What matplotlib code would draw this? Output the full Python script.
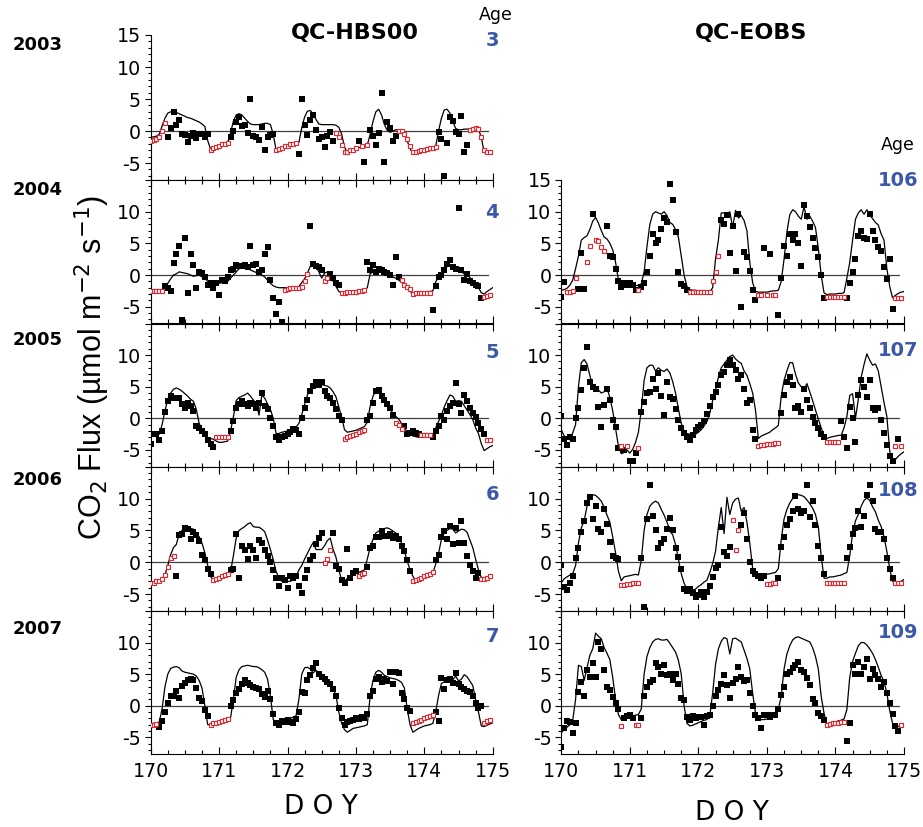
import numpy as np
import matplotlib.pyplot as plt
from matplotlib.ticker import MultipleLocator

plt.rcParams['font.family'] = 'DejaVu Sans'

# hourly values from DOY 170.0 ; line = model, obs = measured (gaps = gap-filled hours)
# ---------------- QC-HBS00 ----------------
line_hbs_2003 = [-1.0, -0.9, -0.8, -0.5, 0.8, 2.0, 2.8, 3.0, 3.0, 2.9, 2.7, 2.5,
                 2.3, 2.1, 2.0, 1.8, 1.6, 1.4, 1.1, 0.7, -1.5, -2.8, -2.6, -2.4,
                 -2.3, -2.1, -2.0, -1.8, -0.3, 1.5, 2.5, 2.7, 2.5, 2.0, 1.5, 1.1,
                 1.0, 1.0, 1.0, 1.1, 1.2, 1.2, 1.0, -0.5, -3.0, -2.8, -2.6, -2.5,
                 -2.3, -2.2, -2.0, -1.9, -1.8, 0.5, 2.2, 3.1, 3.2, 2.7, 1.8, 1.1,
                 1.0, 1.0, 1.0, 1.0, 1.0, 0.9, 0.6, -0.5, -2.5, -3.4, -3.2, -3.0,
                 -2.8, -2.6, -2.5, -2.4, -2.2, -0.5, 1.5, 3.0, 3.4, 2.5, 1.0, 0.1,
                 -0.2, 0.0, 0.2, 0.2, 0.0, -0.5, -1.5, -2.8, -3.4, -3.3, -3.1, -3.0,
                 -2.9, -2.8, -2.7, -2.6, -2.4, 0.0, 2.0, 3.3, 3.4, 2.8, 1.5, 0.4,
                 0.2, 0.2, 0.3, 0.3, 0.3, 0.4, 0.5, 0.3, -1.0, -3.3, -3.6, -3.4,
                 -3.2]
obs_hbs_2003 = [-1.6, -1.4, -1.2, -1.0, 0.0, 1.3, -0.9, 0.4, 3.0, 1.0, 1.8, -0.4,
                -0.6, -1.7, -0.8, -0.3, -1.1, -0.5, -0.5, -0.9, -0.4, -2.9, -2.7, -2.5,
                -2.3, -2.1, -2.0, -1.8, -0.9, 0.0, 1.4, 2.2, 0.8, 1.0, -0.3, 5.0,
                -0.7, -0.9, -1.4, 0.6, -3.0, -0.9, -0.6, -0.4, -3.0, -2.8, -2.6, -2.4,
                -2.3, -2.1, -2.0, -1.9, -3.6, 5.0, 0.9, -0.6, 1.7, 2.5, 0.2, -1.2,
                -1.0, -2.5, -0.8, -0.1, -1.5, -0.3, -0.9, -2.2, -3.3, -3.2, -3.0, -2.9,
                -2.7, -1.5, -2.4, -4.8, -2.2, 0.1, -0.8, -2.2, -0.3, 6.0, -4.9, 1.4,
                0.4, -1.5, -0.7, 0.0, 0.0, -0.5, -1.2, -2.4, -3.3, -3.3, -3.1, -3.0,
                -2.9, -2.8, -2.7, -2.6, -2.5, -0.2, -1.2, -7.0, -1.8, 2.2, 1.6, -0.2,
                -0.4, 2.3, -3.2, -2.2, 0.2, 0.3, 0.4, 0.3, -1.0, -3.0, -3.3, -3.2]
gap_hbs_2003 = [(0, 5), (21, 27), (44, 51), (65, 72), (74, 74), (76, 76), (87, 100), (112, 119)]

line_hbs_2004 = [-2.5, -2.5, -2.4, -2.4, -2.3, -1.7, -1.3, -0.6, 0.0, 0.2, 0.5, 0.4,
                 0.3, 0.2, 0.0, -0.2, -0.1, 0.0, -0.3, -0.5, -1.0, -1.2, -1.3, -1.3,
                 -1.3, -1.2, -1.1, -1.0, -0.5, 0.0, 0.5, 1.0, 1.1, 1.2, 1.1, 0.8,
                 0.6, 0.4, 0.2, 0.0, -0.3, -0.8, -1.3, -1.7, -1.9, -2.0, -2.0, -2.0,
                 -2.0, -1.9, -1.9, -1.9, -1.8, -1.2, -0.6, 0.3, 1.4, 1.5, 1.4, 0.5,
                 -0.5, 0.3, 0.5, 0.0, -1.0, -1.8, -2.6, -2.8, -2.8, -2.7, -2.7, -2.6,
                 -2.6, -2.5, -2.5, -2.4, -2.0, 0.2, 0.5, 0.8, 0.7, 0.5, 0.3, 0.2,
                 0.0, -0.3, -0.5, -0.8, -1.1, -1.4, -2.0, -2.6, -2.9, -2.8, -2.8, -2.7,
                 -2.7, -2.6, -2.6, -2.5, -1.1, -0.3, 0.0, 0.4, 1.4, 1.5, 1.3, 1.0,
                 0.7, 0.5, 0.2, 0.0, -0.4, -0.9, -1.4, -2.0, -2.8, -3.0, -2.6, -2.3,
                 -2.0]
obs_hbs_2004 = [-2.5, -2.5, -2.5, -2.5, -2.5, -1.8, -2.0, -2.5, 1.9, 3.3, 4.6, -7.1,
                5.9, -2.8, 3.3, 1.6, -2.1, 0.5, 0.3, -0.3, -1.5, -1.3, -2.1, -1.3,
                -3.2, -0.8, -1.0, -0.3, 0.8, 1.0, 1.6, 1.5, 1.5, 1.6, 1.3, 4.6,
                1.6, 1.8, 0.5, 0.8, 3.3, 4.5, -0.8, -3.7, -6.2, -4.2, -7.4, -2.3,
                -2.2, -2.1, -2.1, -2.0, -2.0, -1.9, -1.0, 0.2, 7.7, 1.7, 1.5, 1.3,
                0.8, -0.9, -0.5, 0.2, -0.5, -1.2, -1.6, -2.8, -2.8, -2.7, -2.7, -2.6,
                -2.6, -2.5, -2.5, -2.4, 2.1, 0.8, 1.6, 0.5, 1.0, 0.8, 0.5, 0.3,
                0.0, -1.6, 2.9, -0.3, -0.8, -1.5, -1.9, -2.2, -3.0, -2.9, -2.9, -2.9,
                -2.8, -2.8, -2.8, -5.5, -1.8, -0.3, 0.0, 0.8, 1.8, 2.4, 1.3, 1.0,
                10.6, 0.8, -0.8, 0.2, -1.0, -1.3, -1.6, -1.8, -3.7, -3.5, -3.3, -3.2]
gap_hbs_2004 = [(0, 4), (47, 55), (61, 62), (67, 75), (88, 98), (117, 119)]

line_hbs_2005 = [-2.5, -2.6, -2.7, -2.5, -1.0, 1.2, 3.0, 4.0, 4.6, 4.8, 4.6, 4.3,
                 3.9, 3.5, 3.0, 2.7, 1.4, -0.8, -1.8, -2.6, -3.0, -3.2, -3.3, -3.6,
                 -3.8, -3.8, -3.7, -3.6, -2.0, 0.2, 2.8, 3.3, 3.5, 3.7, 4.0, 3.5,
                 2.9, 2.4, 0.5, 3.7, 3.2, 2.3, 1.4, 0.0, -2.4, -2.4, -2.2, -2.1,
                 -2.0, -1.8, -1.7, -1.4, -0.8, 0.6, 2.2, 3.7, 4.6, 5.2, 5.6, 5.5,
                 5.3, 5.2, 5.1, 4.8, 4.2, 3.4, 1.8, 0.2, -1.8, -2.2, -2.1, -2.0,
                 -1.9, -1.7, -1.5, -1.3, -0.6, 1.9, 3.5, 4.3, 4.5, 3.8, 2.9, 2.2,
                 1.5, 0.7, 0.3, -0.1, -0.8, -1.5, -2.2, -2.5, -2.8, -2.9, -3.0, -3.0,
                 -2.9, -2.8, -2.7, -2.5, -1.5, -0.5, 0.5, 1.8, 2.8, 3.7, 3.5, 2.7,
                 2.8, 2.7, 2.0, 1.3, 0.6, -0.2, -1.5, -2.4, -4.0, -5.1, -4.8, -4.5,
                 -4.3]
obs_hbs_2005 = [-4.1, -2.5, -2.5, -3.5, -2.0, 1.0, 2.7, 3.5, 3.2, 3.2, 3.2, 2.2,
                1.7, 2.4, 1.9, 1.1, -1.2, -1.5, -2.0, -2.5, -3.5, -4.0, -4.6, -3.0,
                -3.0, -3.0, -3.0, -3.0, -2.0, -0.5, 1.7, 2.2, 2.7, 2.2, 2.0, 2.4,
                2.2, 1.7, 2.4, 4.0, 2.0, 1.5, 0.1, -1.2, -3.0, -3.5, -3.0, -2.8,
                -2.5, -2.2, -1.7, -1.8, -2.5, 0.0, 1.7, 2.9, 4.3, 5.1, 5.8, 5.3,
                5.8, 4.3, 3.5, 3.2, 2.4, 1.4, 0.4, -0.2, -3.2, -3.0, -2.8, -2.6,
                -2.4, -2.2, -2.0, -1.8, -0.2, 0.4, 2.4, 4.3, 4.5, 3.5, 2.9, 2.2,
                1.7, 0.6, -0.7, -1.0, -1.7, -1.2, -2.5, -2.3, -2.0, -2.3, -2.5, -2.6,
                -2.6, -2.6, -2.6, -3.0, -2.0, -1.2, 0.4, -0.2, 1.1, 1.9, 2.4, 5.6,
                2.2, 0.9, 3.7, 2.7, 1.7, 0.9, 0.2, -0.8, -1.7, -2.5, -3.4, -3.4]
gap_hbs_2005 = [(23, 27), (68, 75), (86, 88), (95, 98), (118, 119)]

line_hbs_2006 = [-3.3, -3.2, -3.1, -3.0, -2.6, -2.0, -0.5, 1.2, 2.3, 2.8, 4.5, 5.0,
                 5.3, 5.4, 5.3, 5.2, 4.6, 4.0, 3.0, 1.5, -0.5, -2.2, -2.8, -2.6,
                 -2.5, -2.3, -2.1, -1.9, -1.6, 1.0, 3.8, 5.0, 5.3, 5.6, 6.0, 6.2,
                 5.6, 5.5, 5.5, 5.2, 4.8, 3.5, 2.0, 0.4, -1.5, -2.4, -3.0, -3.0,
                 -3.0, -3.0, -2.7, -2.3, -1.2, -0.5, 0.5, 1.4, 2.3, 3.1, 2.0, 2.0,
                 2.0, 2.6, 3.4, 3.8, 2.0, 0.8, -1.2, -2.8, -3.0, -2.5, -2.2, -2.0,
                 -1.8, -1.6, -1.4, -1.2, 0.5, 2.3, 3.6, 4.6, 4.9, 5.0, 5.3, 5.4,
                 5.2, 4.9, 4.6, 4.1, 3.0, 1.8, 0.2, -1.2, -2.2, -3.0, -2.8, -2.6,
                 -2.4, -2.1, -1.9, -1.7, -0.3, 1.4, 3.6, 4.6, 5.0, 5.3, 5.2, 4.6,
                 4.9, 5.2, 5.1, 4.7, 3.5, 2.3, 0.5, -1.2, -2.4, -3.0, -2.7, -2.4,
                 -2.2]
obs_hbs_2006 = [-3.3, -3.2, -3.0, -2.9, -2.6, -2.0, -0.8, 0.6, 1.0, -2.1, 4.3, 4.4,
                5.3, 5.2, 3.6, 4.8, 4.3, 3.3, 1.2, 0.4, -1.0, -1.9, -2.8, -2.6,
                -2.4, -2.2, -2.0, -1.8, -1.2, -1.0, 4.4, -2.5, 2.6, 2.0, 0.5, 2.5,
                2.0, 0.6, 3.5, 3.0, 2.0, 1.0, 0.0, -1.2, -2.5, -3.8, -2.4, -2.8,
                -4.1, -2.2, -2.5, -2.2, -3.8, -4.8, -2.4, -1.2, 0.4, 1.0, 2.8, 3.8,
                4.6, -0.1, 0.5, 2.0, 4.6, -0.6, -1.0, -2.8, -3.3, 2.1, -2.5, -1.7,
                -1.4, -2.1, -1.9, -1.7, -0.8, 2.2, 2.5, 3.9, 4.0, 4.9, 4.2, 4.2,
                4.4, 3.8, 4.2, 3.6, 2.6, 1.7, 0.4, -1.4, -3.0, -2.8, -2.6, -2.4,
                -2.2, -2.0, -1.8, -1.6, 0.4, 1.2, 3.9, 4.9, 3.6, 5.7, 2.8, 5.4,
                3.0, 6.5, 3.0, 1.0, -0.5, -1.4, -2.5, -1.7, -2.7, -2.6, -2.4, -2.2]
gap_hbs_2006 = [(0, 8), (22, 27), (61, 63), (73, 75), (92, 99), (116, 119)]

line_hbs_2007 = [-2.8, -2.8, -2.7, -2.6, -0.5, 3.0, 5.0, 5.9, 6.1, 6.2, 6.0, 5.5,
                 5.3, 5.2, 5.1, 5.0, 4.7, 4.0, 2.8, 0.0, -3.0, -3.0, -2.8, -2.6,
                 -2.5, -2.4, -2.3, -2.2, -2.0, 1.0, 4.5, 5.7, 6.2, 6.3, 6.4, 6.3,
                 6.2, 6.2, 6.0, 5.7, 5.3, 4.2, 1.5, -2.2, -2.6, -2.6, -2.5, -2.3,
                 -2.1, -2.0, -1.8, -1.6, 1.0, 5.0, 6.0, 6.1, 5.8, 5.2, 5.6, 5.2,
                 4.5, 4.2, 3.8, 3.2, 2.8, 1.6, -1.0, -2.8, -3.8, -4.2, -3.9, -3.6,
                 -3.5, -3.4, -3.3, -3.2, -3.0, 1.5, 4.0, 5.3, 5.6, 5.3, 4.8, 4.6,
                 4.4, 4.3, 4.2, 4.0, 3.7, 2.8, -0.5, -3.0, -4.2, -3.9, -3.6, -3.4,
                 -3.2, -3.1, -3.0, -2.8, -1.0, 1.6, 3.5, 3.8, 4.1, 4.1, 4.1, 4.7,
                 3.9, 4.2, 4.9, 4.6, 3.9, 3.2, 1.0, -1.0, -3.2, -3.3, -3.1, -2.9,
                 -2.7]
obs_hbs_2007 = [-3.0, -3.0, -2.9, -3.3, -2.5, -1.0, 0.5, 1.6, 1.5, 2.3, 1.2, 3.1,
                3.6, 4.0, 4.3, 4.0, 2.8, 1.2, 0.8, -0.7, -1.6, -3.0, -2.8, -2.7,
                -2.6, -2.4, -2.3, -2.1, 0.0, 0.9, 2.0, 2.6, 3.4, 4.1, 3.6, 3.2,
                3.0, 2.8, 2.6, 1.8, 1.3, 2.3, 1.0, -1.3, -2.8, -3.1, -2.5, -2.6,
                -2.3, -2.6, -2.8, -2.1, -1.0, 2.1, 2.0, 4.0, 4.8, 6.0, 6.7, 5.0,
                4.6, 4.3, 3.7, 3.4, 2.6, 1.5, -0.3, -1.9, -3.0, -2.6, -2.4, -2.2,
                -1.9, -2.1, -1.8, -2.0, -1.3, 1.5, 2.4, 4.2, 4.6, 3.7, 4.2, 3.9,
                5.4, 3.5, 5.4, 5.2, 2.0, 1.1, -0.3, -0.8, -2.7, -2.6, -2.4, -2.2,
                -2.0, -1.8, -1.6, -1.4, -1.0, -2.5, 4.4, 2.6, 4.0, 4.3, 3.6, 5.2,
                3.4, 3.0, 2.6, 2.4, 2.1, 1.6, 0.5, -0.3, 0.0, -2.8, -2.5, -2.2]
gap_hbs_2007 = [(0, 2), (21, 27), (92, 99), (117, 119)]

# ---------------- QC-EOBS ----------------
line_eobs_2004 = [-2.4, -2.3, -2.1, -1.6, -0.8, 1.0, 3.0, 5.5, 5.9, 6.2, 7.2, 8.5,
                  9.1, 8.2, 7.0, 6.0, 5.7, 5.0, 4.0, 2.0, -0.8, -1.1, -1.2, -1.3,
                  -1.4, -1.5, -1.7, -1.6, -1.4, 0.5, 4.5, 8.0, 9.6, 10.0, 9.8, 9.6,
                  10.0, 9.4, 8.3, 8.0, 7.2, 6.0, 3.0, 0.0, -1.8, -2.3, -2.4, -2.4,
                  -2.5, -2.5, -2.6, -2.6, -2.7, -2.0, 2.5, 5.5, 9.8, 9.8, 9.5, 10.0,
                  7.5, 10.2, 9.0, 9.4, 8.6, 7.0, 2.0, -1.2, -2.6, -2.7, -2.7, -2.7,
                  -2.7, -2.6, -2.5, -2.5, -2.4, -1.0, 2.5, 6.8, 9.5, 10.3, 10.0, 9.3,
                  8.8, 10.8, 8.8, 9.3, 8.5, 7.5, 4.2, 0.0, -2.8, -3.1, -3.0, -3.0,
                  -3.0, -2.9, -2.9, -2.8, -0.5, 2.0, 5.5, 8.8, 9.8, 10.3, 9.6, 10.3,
                  9.5, 8.9, 8.3, 7.9, 6.5, 5.5, 1.0, -1.8, -3.6, -3.2, -2.9, -2.7,
                  -2.6]
obs_eobs_2004 = [-3.5, -1.1, -2.7, -2.7, -2.5, -0.4, -2.2, 3.5, -2.2, 2.0, 4.6, 9.7,
                 5.6, 5.4, 4.4, 3.8, 7.7, 3.0, 2.9, 0.9, -1.0, -1.9, -1.2, -1.6,
                 -1.2, -1.6, -2.4, -2.3, -1.9, -1.2, 0.4, 3.0, 6.4, 5.0, 5.6, 7.2,
                 9.0, 8.3, 14.4, 11.9, 6.8, 0.5, -1.4, -1.7, -2.4, -2.6, -2.6, -2.6,
                 -2.6, -2.6, -2.6, -2.6, -2.6, -1.0, 0.4, 3.0, 8.7, 8.0, 9.5, 3.5,
                 7.8, 0.7, 9.7, -5.0, 3.6, 2.8, 0.7, -2.4, -3.9, -3.2, -3.2, 4.3,
                 -3.2, 3.3, -3.2, -3.2, -6.3, -0.4, 4.6, 3.0, 6.4, 5.5, 6.5, 5.0,
                 1.5, 11.0, 9.3, 7.6, 5.9, 4.3, 2.8, 0.0, -3.7, -3.5, -3.5, -3.5,
                 -3.5, -3.5, -3.5, -3.5, -3.7, -1.2, 0.4, 2.5, 6.1, 6.9, 5.8, 5.7,
                 9.7, 7.0, 5.5, 4.5, 3.8, 1.2, -0.6, 2.5, -5.3, -3.7, -3.7, -3.7]
gap_eobs_2004 = [(2, 5), (9, 10), (12, 15), (27, 27), (45, 55), (69, 70), (72, 72),
                 (74, 75), (93, 99), (117, 119)]

line_eobs_2005 = [-1.8, -2.8, -3.2, -3.4, -2.3, -1.0, 5.0, 8.8, 9.3, 8.6, 6.8, 5.0,
                  4.3, 4.5, 4.0, 4.2, 4.8, 3.3, 1.2, -1.6, -4.4, -5.6, -5.4, -5.0,
                  -5.5, -4.9, -3.8, -2.2, 1.3, 6.0, 8.0, 8.4, 8.4, 7.5, 8.0, 7.6,
                  7.4, 7.8, 7.2, 5.8, 4.0, 1.5, -0.8, -2.0, -2.4, -2.5, -2.6, -2.5,
                  -2.2, -1.8, -1.2, -0.5, 0.8, 2.8, 4.5, 6.5, 8.0, 8.6, 9.2, 9.8,
                  10.0, 9.4, 9.0, 8.7, 7.5, 6.8, 5.5, 4.0, 1.3, -3.2, -2.8, -2.6,
                  -2.4, -2.2, -1.8, -1.5, -1.1, 3.5, 6.0, 7.5, 8.8, 8.8, 7.0, 5.6,
                  5.0, 4.6, 5.5, 4.2, 2.8, 1.3, -0.1, -1.5, -2.8, -3.2, -3.0, -2.9,
                  -2.8, -2.7, -2.7, -1.5, 0.3, 3.6, 3.9, 0.0, 3.0, 6.5, 8.5, 10.2,
                  9.2, 8.4, 8.6, 7.5, 5.0, 2.5, 0.3, -5.2, -6.9, -6.5, -6.0, -5.6,
                  -5.3]
obs_eobs_2005 = [0.3, -3.2, -4.2, -3.0, -3.2, 0.0, 1.6, 4.5, 8.0, 11.3, 5.8, 5.0,
                 4.7, 1.8, -1.3, 2.1, 4.7, 2.9, -0.3, -1.3, -4.7, -4.4, -5.0, -4.4,
                 -6.8, -6.8, -5.5, -4.7, 1.0, 2.6, 4.0, 4.2, 6.3, 4.7, 7.2, 3.5,
                 0.5, 5.8, 3.4, 3.0, 1.5, -0.3, -1.6, -2.3, -2.9, -3.4, -2.6, -1.8,
                 -1.4, -1.1, -0.5, 0.7, 2.0, 3.4, 4.2, 5.3, 6.8, 7.4, 8.4, 9.2,
                 8.4, 7.6, 6.3, 6.8, 4.7, 2.4, 2.9, -1.8, -3.2, -4.3, -4.2, -4.2,
                 -4.1, -4.0, -4.0, -3.9, -3.9, 0.8, 3.7, 5.8, 6.6, 5.3, 1.6, 2.0,
                 1.0, 4.7, 2.9, 1.6, 0.2, -0.8, -1.6, -2.4, -2.9, -3.8, -3.8, -3.8,
                 -3.8, -3.8, -0.5, -2.9, -4.7, 1.8, 0.0, -3.7, 3.7, 6.1, 5.0, 3.4,
                 6.1, 1.6, 1.3, 1.6, -0.3, -2.3, -4.2, -6.0, -6.8, -4.3, -3.3, -4.4]
gap_eobs_2005 = [(21, 21), (23, 23), (27, 27), (69, 76), (93, 97), (117, 117), (119, 119)]

line_eobs_2006 = [-3.2, -2.6, -2.3, -2.0, -1.8, -0.5, 3.0, 5.4, 6.5, 8.8, 10.1, 10.6,
                  10.5, 10.1, 9.6, 8.6, 7.4, 6.3, 4.0, 1.5, -1.4, -2.9, -2.3, -2.2,
                  -2.1, -2.0, -1.9, -2.0, 0.3, 5.0, 7.5, 8.8, 9.3, 9.6, 9.3, 8.3,
                  7.4, 6.3, 5.0, 4.3, 2.8, 0.5, -1.8, -3.3, -4.2, -4.4, -4.4, -4.2,
                  -3.8, -3.5, -3.1, -2.8, -1.6, -0.2, 1.7, 5.5, 8.6, 4.5, 10.2, 7.5,
                  9.3, 9.9, 10.1, 8.0, 8.6, 6.3, 3.0, -1.0, -2.2, -2.1, -2.0, -2.0,
                  -1.9, -1.8, -1.7, -1.6, -1.0, 3.5, 6.8, 8.3, 9.3, 10.0, 10.5, 10.6,
                  10.5, 10.3, 9.8, 9.2, 8.5, 7.5, 5.6, 1.0, -2.5, -2.5, -2.3, -2.3,
                  -2.2, -2.1, -2.0, -1.8, -1.6, 1.0, 4.5, 6.5, 7.5, 8.8, 9.7, 10.1,
                  9.7, 8.7, 7.9, 6.6, 5.6, 4.0, 1.7, -1.0, -3.0, -3.2, -3.2, -3.0,
                  -2.7]
obs_eobs_2006 = [-0.4, -3.9, -4.4, -3.3, -2.2, 0.7, 2.2, 4.7, 6.5, 9.3, 10.2, 6.8,
                 8.9, 5.2, 4.7, 8.4, 6.0, 3.2, 1.0, 0.7, 0.5, -3.5, -3.5, -3.4,
                 -3.4, -3.3, -3.3, -3.2, 0.7, -7.0, 6.8, 12.1, 7.3, 5.0, 2.2, 3.1,
                 3.7, 5.2, 7.0, 5.0, 2.2, 0.8, -1.0, -4.2, -4.5, -4.2, -4.8, -5.5,
                 -5.1, -4.6, -5.4, -4.6, -3.7, -2.3, -0.9, -0.4, 5.5, 1.6, 1.0, 2.4,
                 6.6, 2.0, 5.1, 5.8, 7.8, 3.7, 0.0, -1.4, -1.8, -2.1, -2.4, -2.1,
                 -3.4, -3.4, -3.3, -3.3, -2.4, 2.4, 4.0, 5.8, 6.8, 8.1, 10.4, 8.4,
                 7.8, 8.1, 12.1, 7.1, 9.6, 5.8, 2.6, 0.6, -1.9, -3.2, -3.2, -3.2,
                 -3.2, -3.2, -3.2, -3.2, 0.7, 2.4, 4.5, 5.3, 8.0, 5.5, 7.3, 10.6,
                 12.1, 9.6, 5.2, 4.7, 4.8, 3.7, 0.7, -1.0, -2.5, -3.2, -3.2, -3.2]
gap_eobs_2006 = [(21, 27), (60, 62), (72, 75), (93, 99), (117, 119)]

line_eobs_2007 = [-4.3, -3.8, -3.4, -3.0, -2.3, 1.0, 6.4, 6.2, 4.0, 6.0, 8.0, 9.0,
                  11.5, 11.0, 10.6, 9.2, 8.3, 7.3, 4.5, 1.0, -1.4, -2.2, -2.0, -1.9,
                  -1.7, -1.6, -1.5, -1.4, -0.5, 5.0, 7.8, 9.2, 10.1, 10.5, 10.6, 10.4,
                  10.4, 10.5, 9.9, 9.2, 8.5, 7.2, 5.0, 0.0, -2.8, -3.2, -3.1, -2.9,
                  -2.7, -2.5, -2.3, -2.2, -1.6, 2.0, 6.5, 9.0, 10.2, 10.8, 10.6, 8.2,
                  10.6, 10.7, 10.4, 10.1, 8.8, 7.5, 5.8, 2.0, -1.2, -2.0, -2.2, -2.2,
                  -2.1, -2.0, -1.9, -1.7, -0.6, 1.5, 5.8, 8.2, 9.5, 10.4, 10.8, 10.9,
                  10.7, 10.5, 10.3, 10.1, 9.2, 7.8, 5.8, 1.5, -1.2, -3.1, -2.9, -2.7,
                  -2.6, -2.4, -2.3, -2.1, -0.6, 4.5, 7.0, 8.3, 9.5, 10.0, 10.0, 9.6,
                  9.0, 8.3, 7.3, 6.1, 4.8, 3.8, 2.0, -0.8, -2.8, -3.5, -3.3, -3.0,
                  -2.8]
obs_eobs_2007 = [-6.6, -3.5, -2.4, -2.6, -4.3, -2.8, 2.2, 3.8, 1.5, 5.6, 4.6, 6.7,
                 4.6, 10.1, 9.0, 5.6, 3.0, 2.5, 1.4, 0.4, -0.6, -3.2, -1.9, -1.7,
                 -1.5, -2.0, -3.0, -3.0, -1.9, 1.5, 3.0, 3.8, 4.1, 6.7, 6.2, 5.0,
                 6.4, 4.8, 5.0, 4.0, 5.0, 3.5, 1.2, 0.9, -1.8, -2.2, -1.6, -1.9,
                 -1.8, -1.8, -3.0, -1.7, -1.4, 0.0, 1.5, 2.5, 3.5, 4.8, 3.3, 1.2,
                 3.6, 4.3, 6.1, 4.5, 3.9, 4.0, 2.0, 0.0, -1.4, -1.9, -3.5, -1.4,
                 -1.4, -1.8, -1.5, -1.4, -0.6, 1.7, 3.0, 5.0, 5.3, 5.9, 6.4, 6.9,
                 5.7, 5.4, 4.4, 3.3, 1.0, 0.4, -1.2, -1.6, -2.3, -3.0, -2.9, -2.8,
                 -2.8, -2.7, -2.6, -2.6, -5.6, -2.7, 6.4, 5.0, 6.9, 5.0, 6.2, 7.4,
                 4.3, 5.8, 4.8, 4.3, 3.0, 3.8, 2.0, 0.5, -1.3, -3.2, -4.0, -3.0]
gap_eobs_2007 = [(21, 21), (26, 27), (93, 99), (119, 119)]

years = [2003, 2004, 2005, 2006, 2007]
age_hbs = [3, 4, 5, 6, 7]
age_eobs = [106, 107, 108, 109]
doy_ticks = [170, 171, 172, 173, 174, 175]

hbs = [(line_hbs_2003, obs_hbs_2003, gap_hbs_2003),
       (line_hbs_2004, obs_hbs_2004, gap_hbs_2004),
       (line_hbs_2005, obs_hbs_2005, gap_hbs_2005),
       (line_hbs_2006, obs_hbs_2006, gap_hbs_2006),
       (line_hbs_2007, obs_hbs_2007, gap_hbs_2007)]
eobs = [(line_eobs_2004, obs_eobs_2004, gap_eobs_2004),
        (line_eobs_2005, obs_eobs_2005, gap_eobs_2005),
        (line_eobs_2006, obs_eobs_2006, gap_eobs_2006),
        (line_eobs_2007, obs_eobs_2007, gap_eobs_2007)]

W, H = 923, 827
fig = plt.figure(figsize=(W / 100, H / 100), dpi=100)


def fx(px):
    return px / W


def fy(py):
    return 1 - py / H


row_edges = [35, 180, 323.5, 466.7, 611, 754]
blue = '#3d58a7'
red = '#e8232b'


def panel(left, width, row, data, top, bottom):
    line, obs, gaps = data
    assert len(line) == 121 and len(obs) == 120
    ax = fig.add_axes([fx(left), fy(row_edges[row + 1]), fx(width),
                       (row_edges[row + 1] - row_edges[row]) / H])
    ax.axhline(0, xmax=0.985, color='0.25', lw=0.9, zorder=1)
    t_line = 170 + np.arange(len(line)) / 24
    ax.plot(t_line, line, color='k', lw=0.9, zorder=3)
    obs = np.array(obs, float)
    t_obs = 170 + np.arange(len(obs)) / 24
    filled = np.zeros(len(obs), bool)
    for a, b in gaps:
        filled[a:b + 1] = True
    ax.plot(t_obs[~filled], obs[~filled], 's', ms=4.0, color='k', mew=0, zorder=2)
    ax.plot(t_obs[filled], obs[filled], 's', ms=3.3, mfc='white', mec=red, mew=0.8, zorder=4)

    ax.set_xlim(170, 175)
    ax.set_ylim(-7.65, 15)
    ax.spines['right'].set_visible(False)
    ax.spines['top'].set_visible(not top)
    for s in ['left', 'bottom', 'top']:
        ax.spines[s].set_linewidth(0.8)
    ax.set_xticks(doy_ticks)
    ax.xaxis.set_minor_locator(MultipleLocator(0.25))
    ax.yaxis.set_minor_locator(MultipleLocator(1))
    ax.set_yticks([-5, 0, 5, 10, 15])
    ax.set_yticklabels(['-5', '0', '5', '10', '15' if top else ''])
    ax.set_xticklabels([str(d) for d in doy_ticks])
    ax.tick_params(axis='x', which='both', direction='in', top=not top, bottom=True,
                   labelbottom=bottom, labelsize=13.7, pad=6, width=0.8)
    ax.tick_params(axis='x', which='major', length=5)
    ax.tick_params(axis='x', which='minor', length=3)
    ax.tick_params(axis='y', which='both', direction='out', right=False,
                   labelsize=13.7, pad=2.5, width=0.8)
    ax.tick_params(axis='y', which='major', length=4.5)
    ax.tick_params(axis='y', which='minor', length=2.5)
    return ax


for i, data in enumerate(hbs):
    panel(150.7, 342.0, i, data, top=(i == 0), bottom=(i == 4))
for i, data in enumerate(eobs):
    panel(561.3, 342.7, i + 1, data, top=(i == 0), bottom=(i == 3))

# column titles
fig.text(fx(355), fy(33), 'QC-HBS00', ha='center', va='center', fontsize=16, fontweight='bold')
fig.text(fx(751), fy(33), 'QC-EOBS', ha='center', va='center', fontsize=16, fontweight='bold')

# year labels
for yr, py in zip(years, [45, 190, 340, 480, 629]):
    fig.text(fx(13), fy(py), str(yr), ha='left', va='center', fontsize=13, fontweight='bold')

# stand age
fig.text(fx(496), fy(15), 'Age', ha='center', va='center', fontsize=12.5)
fig.text(fx(898), fy(145), 'Age', ha='center', va='center', fontsize=12.5)
for a, py in zip(age_hbs, [40, 213, 353, 495, 637]):
    fig.text(fx(499), fy(py), str(a), ha='right', va='center', fontsize=14,
             fontweight='bold', color=blue)
for a, py in zip(age_eobs, [180, 350, 490, 633]):
    fig.text(fx(918), fy(py), str(a), ha='right', va='center', fontsize=14,
             fontweight='bold', color=blue)

fig.text(fx(92), fy(367), 'CO$_2$ Flux (\u00b5mol m$^{-2}$ s$^{-1}$)', rotation=90,
         ha='center', va='center', fontsize=22, family='Liberation Sans')
fig.text(fx(321), fy(807), 'D O Y', ha='center', va='center', fontsize=19)
fig.text(fx(732), fy(813), 'D O Y', ha='center', va='center', fontsize=19)

fig.savefig('out.png', dpi=100)
